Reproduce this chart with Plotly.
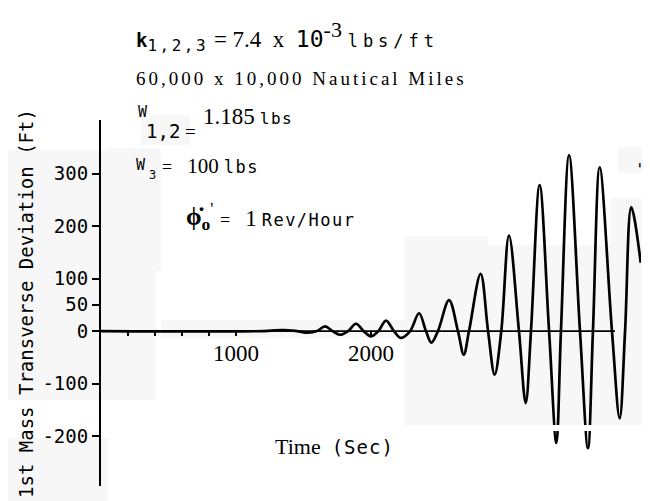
import plotly.graph_objects as go

# ---- data ----
time_s = [0, 1200, 1350, 1450, 1533, 1600, 1659, 1715, 1770, 1830, 1889, 1945,
          2000, 2055, 2111, 2170, 2222, 2290, 2356, 2407, 2447, 2496, 2578, 2644,
          2687, 2726, 2812, 2867, 2916, 2965, 3022, 3096, 3146, 3185, 3249, 3319,
          3373, 3407, 3467, 3548, 3607, 3644, 3694, 3785, 3842, 3882, 3928, 3998]
deviation_ft = [0, 0, 2, 0, -3, 0, 9, 0, -7, 0, 14, 0,
                -10, 0, 20, 0, -13, 0, 34, 0, -22, 0, 59, 0,
                -45, 0, 109, 0, -83, 0, 182, 0, -137, 0, 278, 0,
                -213, 0, 335, 0, -223, 0, 312, 0, -166, 0, 236, 130]

y_tick_vals = [-200, -100, 0, 50, 100, 200, 300]
y_tick_text = ["-200", "-100", "0", "50", "100", "200", "300"]
x_tick_vals = [1000, 2000]
x_tick_text = ["1000", "2000"]
x_minor_ticks = [200, 400, 600, 800]

X_RANGE = [0, 4000]
Y_RANGE = [-295, 402]
ZERO_LINE_END = 3807

# ---- layout geometry (pixels) ----
W, H = 650, 501
L, R, T, B = 93, 633, 112, 478


def fx(px):
    return (px - L) / (R - L)


def fy(py):
    return (B - py) / (B - T)


MONO = "DejaVu Sans Mono"
SERIF = "Liberation Serif"


def mono(s, size, spacing=0):
    st = f"font-family:'{MONO}';font-size:{size}px"
    if spacing:
        st += f";letter-spacing:{spacing}px"
    return f"<span style=\"{st}\">{s}</span>"


def serif(s, size, spacing=0):
    st = f"font-family:'{SERIF}';font-size:{size}px"
    if spacing:
        st += f";letter-spacing:{spacing}px"
    return f"<span style=\"{st}\">{s}</span>"


fig = go.Figure()

# faint scan patches (background)
patches = [
    (0, 142, 148, 392), (0, 430, 100, 501), (133, 107, 182, 137),
    (100, 140, 153, 263), (153, 312, 397, 330),
    (396, 228, 480, 417), (480, 237, 603, 417), (603, 190, 650, 417),
    (610, 139, 650, 165),
]
for x0, y0, x1, y1 in patches:
    fig.add_shape(type="rect", xref="paper", yref="paper",
                  x0=fx(x0), x1=fx(x1), y0=fy(y1), y1=fy(y0),
                  fillcolor="#f7f7f7", line_width=0, layer="below")

fig.add_trace(go.Scatter(
    x=time_s, y=deviation_ft, mode="lines",
    line=dict(color="black", width=2.7, shape="spline", smoothing=1.0),
    hoverinfo="x+y", showlegend=False))

# zero reference line
fig.add_shape(type="line", xref="x", yref="y", x0=0, x1=ZERO_LINE_END,
              y0=0, y1=0, line=dict(color="black", width=1.8), layer="above")

# white scan gap
fig.add_shape(type="rect", xref="paper", yref="paper",
              x0=fx(540), x1=fx(600), y0=fy(423), y1=fy(417),
              fillcolor="white", line_width=0, layer="above")

zero_pos = -Y_RANGE[0] / (Y_RANGE[1] - Y_RANGE[0])

fig.update_layout(
    width=W, height=H, autosize=False,
    margin=dict(l=L, r=W - R, t=T, b=H - B, pad=0),
    paper_bgcolor="white", plot_bgcolor="rgba(0,0,0,0)",
    xaxis=dict(range=X_RANGE, anchor="free", position=zero_pos,
               showline=False, showgrid=False, zeroline=False,
               tickmode="array", tickvals=x_tick_vals, ticktext=x_tick_text,
               ticks="outside", ticklen=4, tickwidth=1.5, tickcolor="black",
               ticklabelstandoff=-3,
               minor=dict(tickmode="array", tickvals=x_minor_ticks,
                          ticks="outside", ticklen=4, tickwidth=1.5,
                          tickcolor="black", showgrid=False),
               tickfont=dict(family=SERIF, size=23, color="black")),
    yaxis=dict(range=Y_RANGE, showline=True, linecolor="black", linewidth=2,
               showgrid=False, zeroline=False,
               tickmode="array", tickvals=y_tick_vals, ticktext=y_tick_text,
               ticks="outside", ticklen=7, tickwidth=1.5, tickcolor="black",
               tickfont=dict(family=MONO, size=19, color="black")),
)

ann = []


def add(text, px, py, xanchor="left", size=20, family=SERIF, angle=0):
    ann.append(dict(text=text, xref="paper", yref="paper", x=fx(px), y=fy(py),
                    xanchor=xanchor, yanchor="middle", showarrow=False,
                    textangle=angle,
                    font=dict(family=family, size=size, color="black")))


# line 1: k_{1,2,3} = 7.4 x 10^-3 lbs/ft
add("<b>" + mono("k", 19) + "</b><sub>" + mono("1,2,3", 16, 2.5) + "</sub>"
    + serif(" = 7.4  x  ", 23) + mono("10", 23) + "<sup>" + serif("-3", 22)
    + "</sup> " + mono("lbs/ft", 17, 5), 126, 28, size=23)
# line 2
add(serif("60,000 x 10,000 Nautical Miles", 19, 3.0), 126, 70, size=19)
# line 3: W_{1,2} = 1.185 lbs (staggered)
add(mono("W", 15), 128, 104, size=15, family=MONO)
add(mono("1,2", 19) + serif(" =", 19), 136, 123, size=19)
add(serif("1.185", 23) + " " + mono("lbs", 16, 1.5), 193, 108, size=20)
# line 4: W_3 = 100 lbs
add(mono("W", 15), 126, 157, size=15, family=MONO)
add(mono("3", 12), 139, 167, size=12, family=MONO)
add(serif("=", 18) + "   " + serif("100", 21) + " " + mono("lbs", 17, 1.5),
    152, 158, size=20)
# line 5: phi-dot_o = 1 Rev/Hour
add("<b>ϕ̇</b><sub><b>o</b></sub><sup>'</sup>", 176, 208, size=25, family=SERIF)
add(serif("=", 18) + "   " + serif("1", 23) + " " + mono("Rev/Hour", 17, 1.5),
    210, 210, size=20)
# axis titles
add(serif("Time", 22) + "  " + mono("(Sec)", 19, 1), 326, 438, xanchor="center",
    size=22)
add("1st Mass Transverse Deviation (Ft)", 18, 296, xanchor="center",
    size=19, family=MONO, angle=-90)
add("'", 632, 161, xanchor="center", size=16, family=MONO)

fig.update_layout(annotations=ann)

fig.write_html("out.html")
